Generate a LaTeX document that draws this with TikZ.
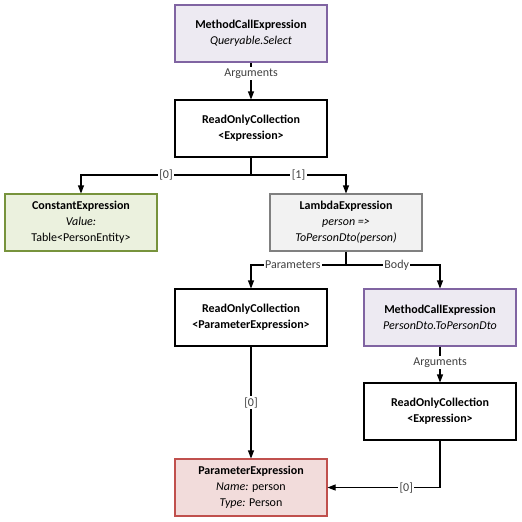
\documentclass[tikz,border=0pt]{standalone}
\usepackage{fontspec}
\setmainfont{Carlito}
\usetikzlibrary{arrows.meta}
\definecolor{callfill}{HTML}{EDEAF2}
\definecolor{calldraw}{HTML}{8064A2}
\definecolor{constfill}{HTML}{EBF1DE}
\definecolor{constdraw}{HTML}{77933C}
\definecolor{lambdafill}{HTML}{F2F2F2}
\definecolor{lambdadraw}{HTML}{808080}
\definecolor{paramfill}{HTML}{F2DCDB}
\definecolor{paramdraw}{HTML}{C0504D}
\definecolor{labeltext}{HTML}{404040}
\tikzset{
  exprbox/.style={draw,line width=0.8pt,minimum width=114pt,minimum height=42.75pt,
    align=center,font=\fontsize{9}{12}\selectfont,inner sep=2pt},
  callbox/.style={exprbox,fill=callfill,draw=calldraw},
  constbox/.style={exprbox,fill=constfill,draw=constdraw},
  lambdabox/.style={exprbox,fill=lambdafill,draw=lambdadraw},
  parambox/.style={exprbox,fill=paramfill,draw=paramdraw},
  collbox/.style={exprbox,fill=white,draw=black},
  link/.style={draw,line width=0.8pt,-{Triangle[width=4.5pt,length=6pt]}},
  linklabel/.style={fill=white,inner sep=1pt,text=labeltext,font=\fontsize{9}{11}\selectfont}
}
\begin{document}
\begin{tikzpicture}[x=0.75pt,y=-0.75pt]
  \useasboundingbox[fill=white] (0,0) rectangle (522,522);
  % boxes
  \node[callbox] (select) at (251,33.5) {\textbf{MethodCallExpression}\\\textit{Queryable.Select}};
  \node[collbox] (selectargs) at (251,128.5) {\textbf{ReadOnlyCollection}\\\textbf{<Expression>}};
  \node[constbox] (table) at (81,222.5) {\textbf{ConstantExpression}\\\textit{Value:}\\Table<PersonEntity>};
  \node[lambdabox] (lambda) at (346,222.5) {\textbf{LambdaExpression}\\\textit{person =>}\\\textit{ToPersonDto(person)}};
  \node[collbox] (params) at (251,317.5) {\textbf{ReadOnlyCollection}\\\textbf{<ParameterExpression>}};
  \node[callbox] (topdto) at (440,317.5) {\textbf{MethodCallExpression}\\\textit{PersonDto.ToPersonDto}};
  \node[collbox] (dtoargs) at (440,411.5) {\textbf{ReadOnlyCollection}\\\textbf{<Expression>}};
  \node[parambox] (person) at (251,487.5) {\textbf{ParameterExpression}\\\textit{Name:} person\\\textit{Type:} Person};
  % branch points
  \coordinate (argsplit) at (251,175);
  \coordinate (lambdasplit) at (346,265);
  % links
  \draw[link] (select) -- node[linklabel,pos=0.3] {Arguments} (selectargs);
  \draw[line width=0.8pt] (selectargs) -- (argsplit);
  \draw[link] (argsplit) -| node[linklabel,pos=0.25] {[0]} (table);
  \draw[link] (argsplit) -| node[linklabel,pos=0.25] {[1]} (lambda);
  \draw[line width=0.8pt] (lambda) -- (lambdasplit);
  \draw[link] (lambdasplit) -| node[linklabel,pos=0.28] {Parameters} (params);
  \draw[link] (lambdasplit) -| node[linklabel,pos=0.27] {Body} (topdto);
  \draw[link] (topdto) -- node[linklabel,pos=0.45] {Arguments} (dtoargs);
  \draw[link] (params) -- node[linklabel] {[0]} (person);
  \draw[link] (dtoargs) |- node[linklabel,pos=0.65] {[0]} (person);
\end{tikzpicture}
\end{document}
